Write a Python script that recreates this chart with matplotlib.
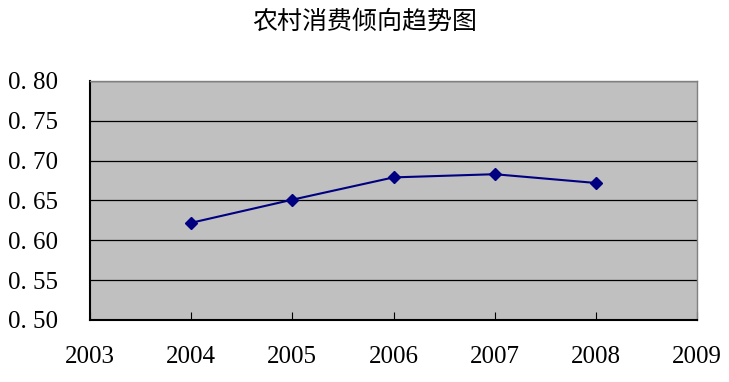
import matplotlib.pyplot as plt
from matplotlib import ticker

plt.rcParams['font.family'] = ['Liberation Serif', 'DejaVu Serif']

TITLE = '农村消费倾向趋势图'
years = [2004, 2005, 2006, 2007, 2008]
propensity = [0.622, 0.651, 0.679, 0.683, 0.672]
x_ticks = [2003, 2004, 2005, 2006, 2007, 2008, 2009]
y_ticks = [0.50, 0.55, 0.60, 0.65, 0.70, 0.75, 0.80]

fig = plt.figure(figsize=(7.29, 3.82), dpi=100)
ax = fig.add_axes([90 / 729, 62 / 382, 607 / 729, 239 / 382])
ax.set_facecolor('#C0C0C0')

ax.plot(years, propensity, color='#000080', linewidth=1.5,
        marker='D', markersize=6, markerfacecolor='#000080',
        markeredgecolor='#000080', zorder=3)

ax.set_xlim(2003, 2009)
ax.set_ylim(0.50, 0.80)
ax.set_xticks(x_ticks)
ax.set_yticks(y_ticks)
ax.yaxis.set_major_formatter(ticker.FuncFormatter(lambda v, p: f'{v:.2f}'.replace('.', '. ')))
ax.grid(axis='y', color='black', linewidth=0.9)
ax.set_axisbelow(True)

ax.tick_params(axis='x', direction='in', length=6, pad=19, labelsize=18)
ax.tick_params(axis='y', length=0, pad=0, labelsize=18)
for lbl in ax.get_yticklabels():
    lbl.set_horizontalalignment('left')
    lbl.set_x(-82 / 607)
for side in ['top', 'right']:
    ax.spines[side].set_color('#808080')
    ax.spines[side].set_linewidth(1.0)
for side in ['left', 'bottom']:
    ax.spines[side].set_color('black')
    ax.spines[side].set_linewidth(1.5)

fig.text(365 / 729, 1 - 22 / 382, TITLE, ha='center', va='center',
         fontsize=18, family=['Noto Sans CJK SC', 'DejaVu Sans'])

fig.savefig('out.png', dpi=100)
